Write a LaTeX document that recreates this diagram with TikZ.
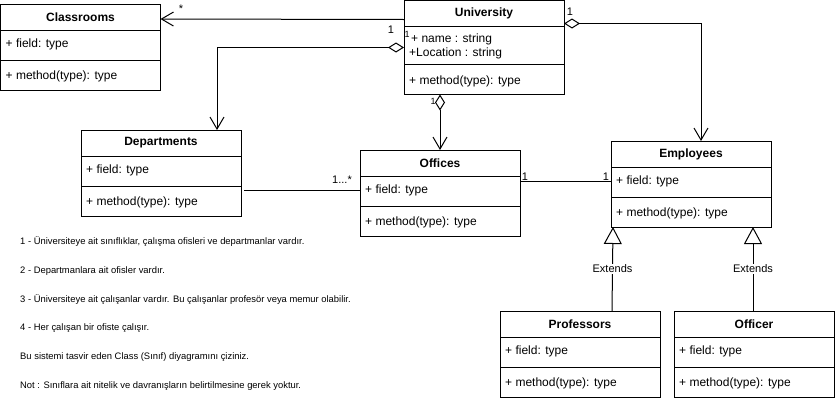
\documentclass[tikz,border=0pt]{standalone}
\usepackage{fontspec}
\setmainfont{Liberation Sans}
\usetikzlibrary{arrows.meta}
\tikzset{
  clsbox/.style={draw, fill=white, line width=1pt, inner sep=0pt, outer sep=0pt, minimum width=160pt},
  sepline/.style={line width=1pt},
  titletext/.style={font=\fontsize{12}{14}\selectfont\bfseries, inner sep=0pt},
  membertext/.style={font=\fontsize{12}{14}\selectfont, inner sep=0pt, anchor=west},
  conn/.style={line width=1pt},
  assoc/.style={conn, -{Straight Barb[length=12pt, width=14pt, line width=1pt]}},
  aggr/.style={conn, {Diamond[open, length=16pt, width=10pt, line width=1pt]}-{Straight Barb[length=12pt, width=14pt, line width=1pt]}},
  gen/.style={conn, -{Triangle[open, length=17pt, width=18pt, line width=1pt, fill=white]}},
  mult/.style={font=\fontsize{11}{13}\selectfont, inner sep=0pt},
  extlabel/.style={font=\fontsize{11}{13}\selectfont, fill=white, inner sep=1pt},
  notetext/.style={font=\fontsize{9.4}{11}\selectfont, inner sep=0pt, anchor=west}
}
\newcommand{\stdclass}[4]{%
  \node[clsbox, minimum height=86pt, anchor=north west] (#1) at (#2,#3) {};
  \draw[sepline] ([yshift=-26pt]#1.north west) -- ([yshift=-26pt]#1.north east);
  \draw[sepline] ([yshift=-56pt]#1.north west) -- ([yshift=-56pt]#1.north east);
  \node[titletext] (#1-t) at ([yshift=-13pt]#1.north) {#4};
  \node[membertext] (#1-f) at ([xshift=5pt,yshift=-40pt]#1.north west) {+ field: type};
  \node[membertext] (#1-m) at ([xshift=5pt,yshift=-72pt]#1.north west) {+ method(type): type};
}
\begin{document}
\begin{tikzpicture}[x=1pt,y=-1pt]
\useasboundingbox (0,0) rectangle (835,418);

\node[clsbox, minimum height=94pt, anchor=north west] (univ) at (404,0.5) {};
\node[clsbox, minimum height=86pt, anchor=north west] (class) at (0.5,4) {};
\node[clsbox, minimum height=86pt, anchor=north west] (dept) at (81,130) {};
\node[clsbox, minimum height=86pt, anchor=north west] (offc) at (360,150) {};
\node[clsbox, minimum height=86pt, anchor=north west] (emp) at (611,141) {};
\node[clsbox, minimum height=86pt, anchor=north west] (prof) at (500,311) {};
\node[clsbox, minimum height=86pt, anchor=north west] (offr) at (674,311) {};

% connectors
\draw[assoc] ([yshift=-19pt]univ.north west) -- ([yshift=-15pt]class.north east);
\draw[aggr] ([yshift=-47pt]univ.north west) -| ([xshift=56pt]dept.north);
\draw[aggr] ([xshift=36pt]univ.south west) -- (offc.north);
\draw[aggr] ([yshift=-23pt]univ.north east) -| ([xshift=10pt]emp.north);
\draw[conn] ([xshift=3pt,yshift=-60pt]dept.north east) -- ([yshift=-40pt]offc.north west);
\draw[conn] ([yshift=-31pt]offc.north east) -- ([yshift=-40pt]emp.north west);
\coordinate (profTop) at ([xshift=112pt]prof.north west);
\coordinate (offrTop) at ([xshift=79pt]offr.north west);
\draw[gen] (profTop) -- node[extlabel, pos=0.5] (ext1) {Extends} ([xshift=2pt]emp.south west |- emp.south);
\draw[gen] (offrTop) -- node[extlabel, pos=0.5] (ext2) {Extends} (offrTop |- emp.south);

% class contents
\stdclass{class}{0.5}{4}{Classrooms}
\stdclass{dept}{81}{130}{Departments}
\stdclass{offc}{360}{150}{Offices}
\stdclass{emp}{611}{141}{Employees}
\stdclass{prof}{500}{311}{Professors}
\stdclass{offr}{674}{311}{Officer}

% University
\node[clsbox, minimum height=94pt, anchor=north west] (univ2) at (404,0.5) {};
\draw[sepline] ([yshift=-26pt]univ2.north west) -- ([yshift=-26pt]univ2.north east);
\draw[sepline] ([yshift=-64pt]univ2.north west) -- ([yshift=-64pt]univ2.north east);
\node[titletext] (univ-t) at ([yshift=-13pt]univ2.north) {University};
\node[membertext] (univ-f1) at (411,39.5) {+ name : string};
\node[membertext] (univ-f2) at (409,53.5) {+Location : string};
\node[membertext] (univ-m) at (409,81.5) {+ method(type): type};

% multiplicities
\node[mult] (m1) at (181,9) {*};
\node[mult] (m2) at (391,30) {1};
\node[mult] (m3) at (407,34) {\fontsize{9}{10}\selectfont 1};
\node[mult] (m4) at (433,101) {\fontsize{9}{10}\selectfont 1};
\node[mult] (m5) at (570,12) {1};
\node[mult] (m6) at (342,180) {1...*};
\node[mult] (m7) at (525,177) {1};
\node[mult] (m8) at (606,177) {1};

% notes
\node[notetext] (n1) at (20,242) {1 - Üniversiteye ait sınıflıklar, çalışma ofisleri ve departmanlar vardır.};
\node[notetext] (n2) at (20,271) {2 - Departmanlara ait ofisler vardır.};
\node[notetext] (n3) at (20,300) {3 - Üniversiteye ait çalışanlar vardır. Bu çalışanlar profesör veya memur olabilir.};
\node[notetext] (n4) at (20,328) {4 - Her çalışan bir ofiste çalışır.};
\node[notetext] (n5) at (20,357) {Bu sistemi tasvir eden Class (Sınıf) diyagramını çiziniz.};
\node[notetext] (n6) at (20,386) {Not : Sınıflara ait nitelik ve davranışların belirtilmesine gerek yoktur.};
\end{tikzpicture}
\end{document}
